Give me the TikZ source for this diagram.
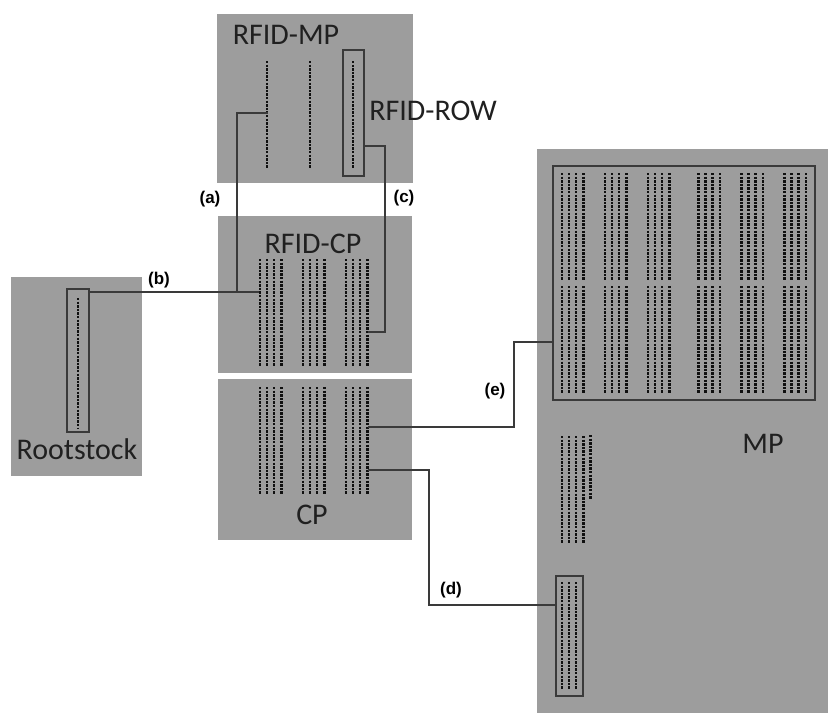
\documentclass[tikz,border=0pt]{standalone}
\usepackage{fontspec}
\setmainfont{Carlito}
\newfontfamily\tagfont{Liberation Sans}
\usetikzlibrary{fit}

\begin{document}
\begin{tikzpicture}[x=1pt,y=-1pt]
  \definecolor{plot}{HTML}{9D9D9D}
  \definecolor{ink}{HTML}{3A3A3A}
  \definecolor{seed}{HTML}{101010}
  \definecolor{word}{HTML}{202020}
  \path[use as bounding box] (0,0) rectangle (828,713);

  \tikzset{field/.style={fill=plot,draw=none,inner sep=0pt},
           framebox/.style={draw=ink,line width=1.05pt,inner sep=0pt},
           seeds/.style={draw=seed,line width=2.8pt,dash pattern=on 2.4pt off 1.2pt},
           wire/.style={draw=ink,line width=1.05pt},
           blockname/.style={font=\fontsize{30}{34}\selectfont,text=word,inner sep=0pt},
           tag/.style={font=\tagfont\bfseries\fontsize{17}{20}\selectfont,text=black,inner sep=0pt}}

  % Grey plots first, everything else sits on top.
  \node[field,fit={(217,14) (413,183)}] (rfidmp) {};
  \node[field,fit={(218,216) (412,373)}] (rfidcp) {};
  \node[field,fit={(218,379) (412,540)}] (cp) {};
  \node[field,fit={(11,277) (142,476)}] (rootstock) {};
  \node[field,fit={(537,149) (828,713)}] (mp) {};

  \foreach \x in {267,310,353}
    \draw[seeds] (\x,61) -- (\x,168);
  \draw[seeds] (78,298) -- (78,428);
  \foreach \g in {260,303,346} \foreach \d in {0,7,14,21.5} {
    \draw[seeds] (\g+\d,259) -- (\g+\d,366);
    \draw[seeds] (\g+\d,387) -- (\g+\d,494);
  }
  \foreach \g in {562,605,648,698.5,741.5,784.5} \foreach \d in {0,7,14,21.5} {
    \draw[seeds] (\g+\d,173) -- (\g+\d,280);
    \draw[seeds] (\g+\d,286) -- (\g+\d,393);
  }
  \foreach \x in {562,569,576,583.5}
    \draw[seeds] (\x,436) -- (\x,543);
  \draw[seeds] (590.5,435) -- (590.5,499);
  \foreach \x in {562,569,576}
    \draw[seeds] (\x,582) -- (\x,689);

  \node[framebox,fit={(343,50) (364,176)}] (rowbox) {};
  \node[framebox,fit={(67,289) (89,432)}] (rootbox) {};
  \node[framebox,fit={(553,166) (815,400)}] (mpbox) {};
  \node[framebox,fit={(556,576) (583,696)}] (treebox) {};

  \coordinate (mprow) at (268,113);
  \coordinate (rootout) at (rootbox.east |- 0,292);
  \coordinate (cprowa) at (259,292);
  \coordinate (join) at (237,292);
  \coordinate (rowout) at (rowbox.east |- 0,146);
  \coordinate (cprowc) at (368,332);
  \coordinate (cpoute) at (368,427);
  \coordinate (cpoutd) at (368,470);
  \coordinate (mpin) at (mpbox.west |- 0,342);
  \coordinate (treein) at (treebox.west |- 0,605);

  \draw[wire] (rootout) -- (cprowa);
  \draw[wire] (mprow) -| (join);
  \draw[wire] (rowout) -- (385,146) |- (cprowc);
  \draw[wire] (cpoute) -| (514,342) -- (mpin);
  \draw[wire] (cpoutd) -| (429,605) -- (treein);

  \node[blockname] (mpname) at (286,35) {RFID-MP};
  \node[blockname] (rowname) at (433,111) {RFID-ROW};
  \node[blockname] (cpname) at (313,244) {RFID-CP};
  \node[blockname] (cpshort) at (312,515) {CP};
  \node[blockname] (mpshort) at (763,444) {MP};
  \node[blockname] (rootname) at (77,449) {Rootstock};

  \node[tag] (taga) at (210,199) {(a)};
  \node[tag] (tagb) at (159,280) {(b)};
  \node[tag] (tagc) at (404,198) {(c)};
  \node[tag] (tagd) at (451,590) {(d)};
  \node[tag] (tage) at (495,391) {(e)};
\end{tikzpicture}
\end{document}
